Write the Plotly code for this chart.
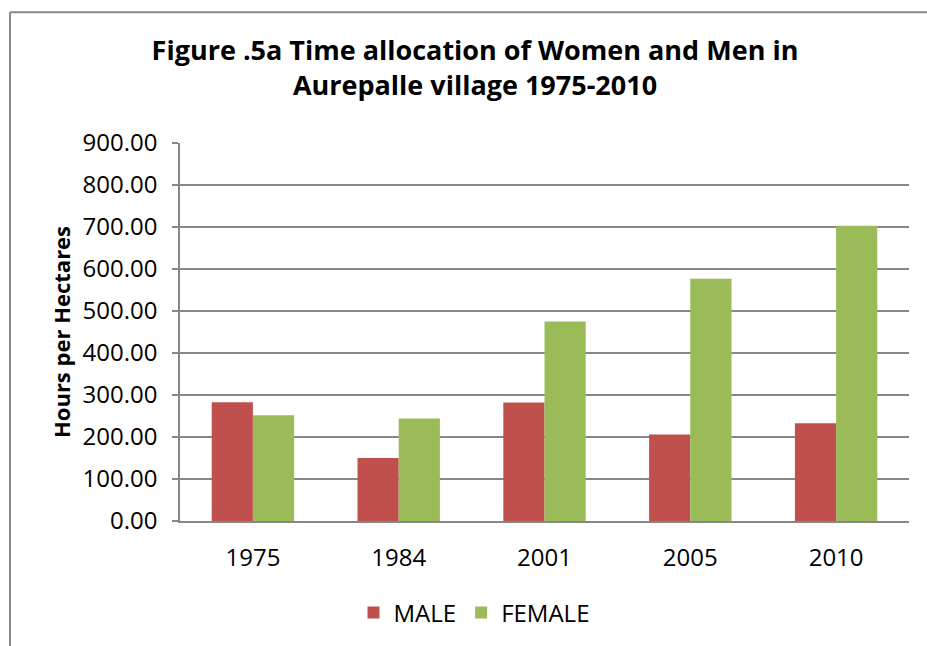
import plotly.graph_objects as go

years = ["1975", "1984", "2001", "2005", "2010"]
male = [283, 150, 282, 206, 233]
female = [252, 244, 475, 577, 703]
y_ticks = [0, 100, 200, 300, 400, 500, 600, 700, 800, 900]

W, H = 927, 646
L, R, T, B = 180, 18, 143, 124
PW = W - L - R
PH = H - T - B

def xp(px):
    return (px - L) / PW

def yp(py):
    return (H - B - py) / PH

fig = go.Figure()
fig.add_trace(go.Bar(x=years, y=male, name="MALE", marker=dict(color="#C0504D", line=dict(width=0))))
fig.add_trace(go.Bar(x=years, y=female, name="FEMALE", marker=dict(color="#9BBB59", line=dict(width=0))))

grid_c = "#878787"
font_main = "Open Sans, Lato, sans-serif"

fig.update_layout(
    width=W, height=H,
    margin=dict(l=L, r=R, t=T, b=B, pad=0),
    paper_bgcolor="white", plot_bgcolor="white",
    barmode="group", bargap=0.435, bargroupgap=0,
    font=dict(family=font_main, size=24, color="black"),
    title=dict(
        text="<b>Figure .5a Time allocation of Women and Men in<br>Aurepalle village 1975-2010</b>",
        x=475 / W, xanchor="center", y=1 - 60 / H, yanchor="top",
        font=dict(family=font_main, size=27, color="black"),
    ),
    showlegend=True,
    legend=dict(
        orientation="h", x=xp(474), xanchor="center", y=yp(613), yanchor="middle",
        font=dict(family=font_main, size=24, color="black"),
        itemsizing="constant", traceorder="normal", itemwidth=30,
        bgcolor="rgba(0,0,0,0)",
    ),
    xaxis=dict(
        showgrid=False, showline=True, linecolor=grid_c, linewidth=1.5,
        ticks="", ticklabelstandoff=14,
        tickfont=dict(family=font_main, size=24),
    ),
    yaxis=dict(
        range=[0, 900], tickvals=y_ticks, tickformat=".2f",
        showgrid=True, gridcolor=grid_c, gridwidth=1.5,
        showline=True, linecolor=grid_c, linewidth=1.5,
        ticks="outside", ticklen=6, tickcolor=grid_c, tickwidth=1.5,
        ticklabelstandoff=10, zeroline=False,
        tickfont=dict(family=font_main, size=24),
        title=dict(text="<b>Hours per Hectares</b>", font=dict(family=font_main, size=22), standoff=6),
    ),
    shapes=[
        dict(type="line", xref="paper", yref="paper", x0=xp(10), x1=xp(10), y0=yp(12), y1=yp(660),
             line=dict(color="#8a8a8a", width=2)),
        dict(type="line", xref="paper", yref="paper", x0=xp(10), x1=xp(940), y0=yp(12), y1=yp(12),
             line=dict(color="#8a8a8a", width=2)),
    ],
)

fig.write_html(
    "out.html",
    config={"displayModeBar": False},
    post_script="document.body.style.margin='0';document.body.style.padding='0';document.body.style.overflow='hidden';",
)
